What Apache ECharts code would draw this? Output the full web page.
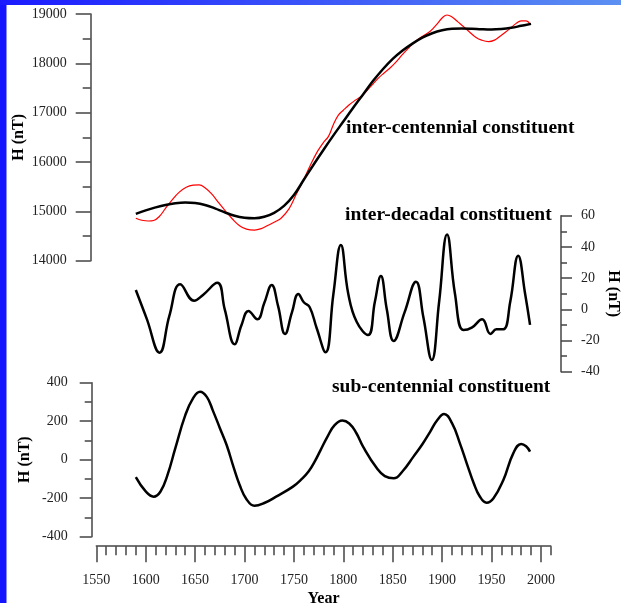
<!DOCTYPE html>
<html>
<head>
<meta charset="utf-8">
<script src="https://cdn.jsdelivr.net/npm/echarts@6/dist/echarts.min.js"></script>
<style>
  html, body { margin: 0; padding: 0; background: #fff; }
  #chart { width: 621px; height: 603px; }
</style>
</head>
<body>
<div id="chart"></div>
<script>
// Observed horizontal intensity H (nT) and its smooth inter-centennial trend
const observedH = [
  [1590, 14860], [1596, 14820], [1603, 14805], [1608, 14815], [1614, 14900],
  [1620, 15060], [1627, 15240], [1634, 15390], [1641, 15490], [1648, 15530],
  [1654, 15535], [1660, 15480], [1667, 15350], [1674, 15170], [1681, 15000],
  [1688, 14840], [1695, 14710], [1702, 14640], [1710, 14620], [1717, 14650],
  [1724, 14720], [1731, 14790], [1737, 14860], [1745, 15050], [1752, 15330],
  [1760, 15650], [1767, 15950], [1774, 16220], [1780, 16400], [1785, 16520],
  [1790, 16760], [1795, 16950], [1800, 17050], [1806, 17160], [1812, 17250],
  [1818, 17330], [1824, 17450], [1830, 17580], [1836, 17710], [1841, 17800],
  [1847, 17900], [1853, 18020], [1860, 18180], [1867, 18330], [1874, 18460],
  [1881, 18560], [1888, 18650], [1895, 18800], [1900, 18920], [1905, 18980],
  [1910, 18940], [1916, 18840], [1922, 18740], [1928, 18630], [1934, 18530],
  [1940, 18470], [1947, 18440], [1953, 18470], [1958, 18540], [1964, 18630],
  [1969, 18710], [1975, 18810], [1980, 18860], [1985, 18860], [1989, 18800]
];
const interCentennial = [
  [1590, 14950], [1600, 15020], [1610, 15080], [1620, 15130], [1630, 15165],
  [1640, 15180], [1650, 15170], [1660, 15130], [1670, 15060], [1680, 14980],
  [1690, 14910], [1700, 14870], [1710, 14860], [1720, 14890], [1730, 14970],
  [1740, 15110], [1750, 15330], [1760, 15640], [1770, 15950], [1780, 16250],
  [1790, 16540], [1800, 16820], [1810, 17100], [1820, 17370], [1830, 17640],
  [1840, 17880], [1850, 18090], [1860, 18260], [1870, 18400], [1880, 18520],
  [1890, 18610], [1900, 18670], [1910, 18700], [1920, 18705], [1930, 18700],
  [1940, 18690], [1950, 18685], [1960, 18695], [1970, 18720], [1980, 18760],
  [1990, 18800]
];
// Inter-decadal constituent (nT)
const interDecadal = [
  [1590, 12.4], [1601, -6], [1614, -27.8], [1624, -4], [1635, 16],
  [1649, 5.5], [1658, 9.2], [1672.5, 17], [1680, 0], [1690, -22.4],
  [1697, -10], [1704, -1.1], [1713, -6.4], [1720, 4], [1727.5, 15.6],
  [1734, 2], [1741, -15.8], [1748, -2], [1754.5, 9.8], [1760, 4.5],
  [1766, 1.3], [1773, -12], [1782, -27.6], [1790, 10], [1797.5, 41.2],
  [1805, 10], [1813.5, -8], [1825, -16.5], [1832, 5], [1838, 21.3],
  [1844, 0], [1851, -20.3], [1862, -2], [1873.5, 17.7], [1881, -5],
  [1889.5, -32.5], [1897, 5], [1905, 48], [1913, 10], [1921.5, -13.3],
  [1930, -11.8], [1940.5, -6.4], [1949, -15.8], [1955, -12.8], [1962, -12.8],
  [1969, 5], [1977, 34.4], [1984, 10], [1989, -10]
];
// Sub-centennial constituent (nT)
const subCentennial = [
  [1590, -91], [1600, -165], [1608, -192], [1615, -165], [1622, -80],
  [1630, 60], [1640, 230], [1648, 320], [1655, 353], [1662, 325],
  [1668, 255], [1675, 165], [1682, 75], [1689, -40], [1695, -130],
  [1702, -205], [1710, -239], [1720, -225], [1732, -192], [1749, -140],
  [1758, -100], [1765, -60], [1771, -10], [1777, 50], [1784, 120],
  [1791, 178], [1799, 203], [1806, 188], [1813, 140], [1820, 68], [1834, -45],
  [1842, -85], [1851, -97], [1860, -60], [1871, 16], [1880, 80],
  [1888, 146], [1895, 205], [1902, 237], [1910, 190], [1918, 85],
  [1925, -20], [1932, -122], [1938, -190], [1945, -223], [1952, -200],
  [1962, -105], [1972, 33], [1980, 82], [1985, 70], [1989, 42]
];
const yearTicks = [1550, 1600, 1650, 1700, 1750, 1800, 1850, 1900, 1950, 2000];

const serif = 'Liberation Serif';
const axisColor = '#444';
const plain = v => String(v);
const labelStyle = { fontFamily: serif, fontSize: 14, color: '#222', formatter: plain };
const nameStyle = { fontFamily: serif, fontSize: 16, fontWeight: 'bold', color: '#000' };
const tickLine = { color: axisColor, width: 1.5 };
const captionFont = 'bold 19.5px "Liberation Serif"';

const chart = echarts.init(document.getElementById('chart'), null, { renderer: 'canvas' });

function yearAxis(extra) {
  return Object.assign({
    type: 'value', min: 1550, max: 2010, interval: 10, position: 'bottom',
    axisLine: { show: false, onZero: false },
    axisTick: { show: false },
    axisLabel: { show: false },
    splitLine: { show: false }
  }, extra);
}

function yAxisBase(extra) {
  return Object.assign({
    type: 'value',
    axisLine: { show: true, onZero: false, lineStyle: tickLine },
    axisTick: { show: true, length: 14, lineStyle: tickLine },
    minorTick: { show: true, splitNumber: 2, length: 7, lineStyle: tickLine },
    splitLine: { show: false },
    axisLabel: Object.assign({ margin: 24 }, labelStyle),
    nameLocation: 'middle',
    nameMoveOverlap: false,
    nameTextStyle: nameStyle
  }, extra);
}

const gridBase = { left: 96.3, width: 454.5, outerBoundsMode: 'none', containLabel: false };

const option = {
  animation: false,
  backgroundColor: '#fff',
  grid: [
    Object.assign({ top: 14, height: 246.7 }, gridBase),
    Object.assign({ top: 215.7, height: 156 }, gridBase),
    Object.assign({ top: 382.7, height: 154 }, gridBase)
  ],
  xAxis: [
    yearAxis({ gridIndex: 0 }),
    yearAxis({ gridIndex: 1 }),
    yearAxis({
      gridIndex: 2, offset: 9.5,
      axisLine: { show: true, onZero: false, lineStyle: tickLine },
      axisTick: { show: true, length: 9, lineStyle: tickLine }
    }),
    yearAxis({
      gridIndex: 2, interval: 50, offset: 9.5,
      axisTick: { show: true, length: 16, customValues: yearTicks, lineStyle: tickLine },
      axisLabel: Object.assign({ show: true, margin: 27, customValues: yearTicks }, labelStyle),
      name: 'Year', nameLocation: 'middle', nameGap: 45, nameMoveOverlap: false, nameTextStyle: nameStyle
    })
  ],
  yAxis: [
    yAxisBase({
      gridIndex: 0, min: 14000, max: 19000, interval: 1000, offset: 5.6,
      axisTick: { show: true, length: 15, lineStyle: tickLine },
      minorTick: { show: true, splitNumber: 2, length: 8, lineStyle: tickLine },
      name: 'H (nT)', nameRotate: 90, nameGap: 64
    }),
    yAxisBase({
      gridIndex: 1, position: 'right', min: -40, max: 60, interval: 20, offset: 10.2,
      axisTick: { show: true, length: 11, lineStyle: tickLine },
      minorTick: { show: true, splitNumber: 2, length: 6, lineStyle: tickLine },
      axisLabel: Object.assign({ margin: 20 }, labelStyle),
      name: 'H (nT)', nameRotate: -90, nameGap: 44
    }),
    yAxisBase({
      gridIndex: 2, min: -400, max: 400, interval: 200, offset: 4.6,
      axisTick: { show: true, length: 12, lineStyle: tickLine },
      name: 'H (nT)', nameRotate: 90, nameGap: 59
    })
  ],
  series: [
    {
      type: 'line', xAxisIndex: 0, yAxisIndex: 0, data: observedH,
      smooth: 0.4, showSymbol: false, lineStyle: { color: '#ff0000', width: 1.2 }
    },
    {
      type: 'line', xAxisIndex: 0, yAxisIndex: 0, data: interCentennial,
      smooth: 0.4, showSymbol: false, lineStyle: { color: '#000', width: 2.5 }
    },
    {
      type: 'line', xAxisIndex: 1, yAxisIndex: 1, data: interDecadal,
      smooth: 0.45, showSymbol: false, lineStyle: { color: '#000', width: 2.5 }
    },
    {
      type: 'line', xAxisIndex: 2, yAxisIndex: 2, data: subCentennial,
      smooth: 0.45, showSymbol: false, lineStyle: { color: '#000', width: 2.5 }
    }
  ],
  graphic: [
    // slide frame: blue left edge and gradient top band
    { type: 'rect', left: 0, top: 0, shape: { width: 6.5, height: 603 }, style: { fill: '#1414ff' }, z: 100 },
    {
      type: 'rect', left: 0, top: 0, shape: { width: 621, height: 5 }, z: 100,
      style: {
        fill: new echarts.graphic.LinearGradient(0, 0, 1, 0, [
          { offset: 0, color: '#1a1aff' }, { offset: 1, color: '#5c90f2' }
        ])
      }
    },
    { type: 'text', left: 346, top: 118, style: { text: 'inter-centennial constituent', font: captionFont, fill: '#000' } },
    { type: 'text', left: 345, top: 205, style: { text: 'inter-decadal constituent', font: captionFont, fill: '#000' } },
    { type: 'text', left: 332, top: 377, style: { text: 'sub-centennial constituent', font: captionFont, fill: '#000' } }
  ]
};

chart.setOption(option);
</script>
</body>
</html>
